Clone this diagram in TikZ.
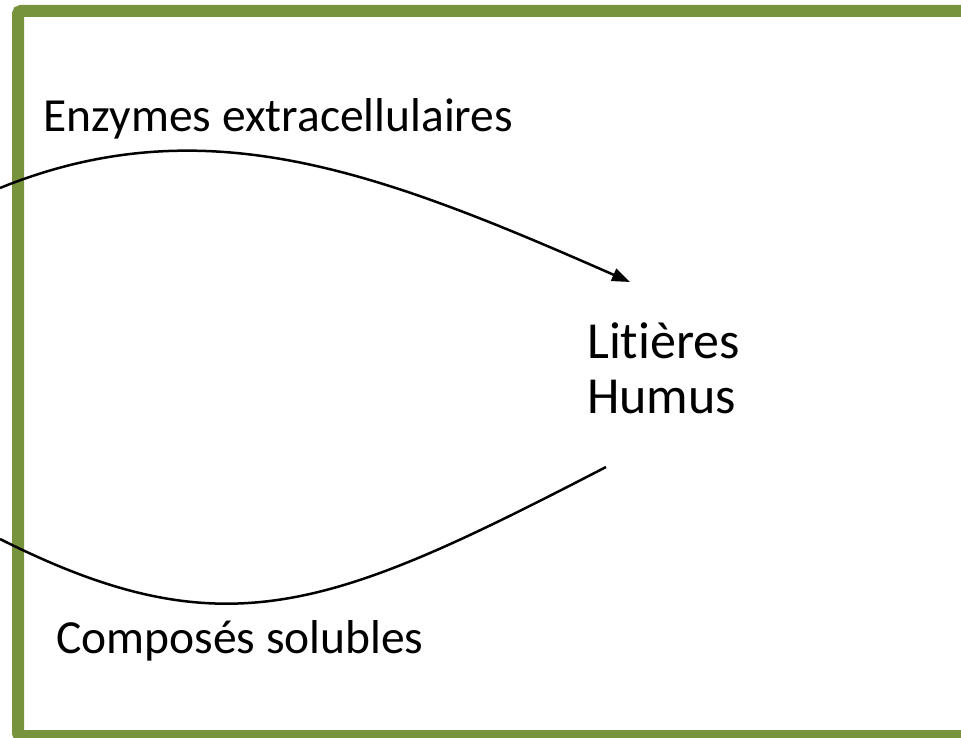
\documentclass[tikz,border=0pt]{standalone}
\usepackage{fontspec}
\setmainfont{Carlito}[Ligatures=NoCommon]
\usetikzlibrary{arrows.meta}
\definecolor{frameGreen}{RGB}{119,147,60}
\begin{document}
\begin{tikzpicture}[x=1pt,y=-1pt,
  lbl/.style={anchor=base west,inner sep=0pt,font=\fontsize{47.5}{55}\selectfont},
  biglbl/.style={anchor=base west,inner sep=0pt,font=\fontsize{52}{55}\selectfont,align=left},
  flow/.style={line width=2.5pt,black},
  frame/.style={line width=12pt,draw=frameGreen,rounded corners=3pt}]
\useasboundingbox (0,0) rectangle (961,738);
\clip (0,0) rectangle (961,738);
\draw[frame] (18,11) rectangle (970,736);
\node[lbl] (enz) at (43,132) {Enzymes extracellulaires};
\node[lbl] (comp) at (56,653) {Composés solubles};
\node[biglbl] (lit) at (587,413) {Litières\\Humus};
\coordinate (s1) at (0,188);
\coordinate (e1) at (630,282);
\coordinate (s2) at (0,539);
\coordinate (e2) at (606,467);
\draw[flow,-{Triangle[length=18pt,width=13pt]}] (s1) .. controls (205,105) and (380,172) .. (e1);
\draw[flow] (s2) .. controls (225,652) and (330,610) .. (e2);
\end{tikzpicture}
\end{document}
